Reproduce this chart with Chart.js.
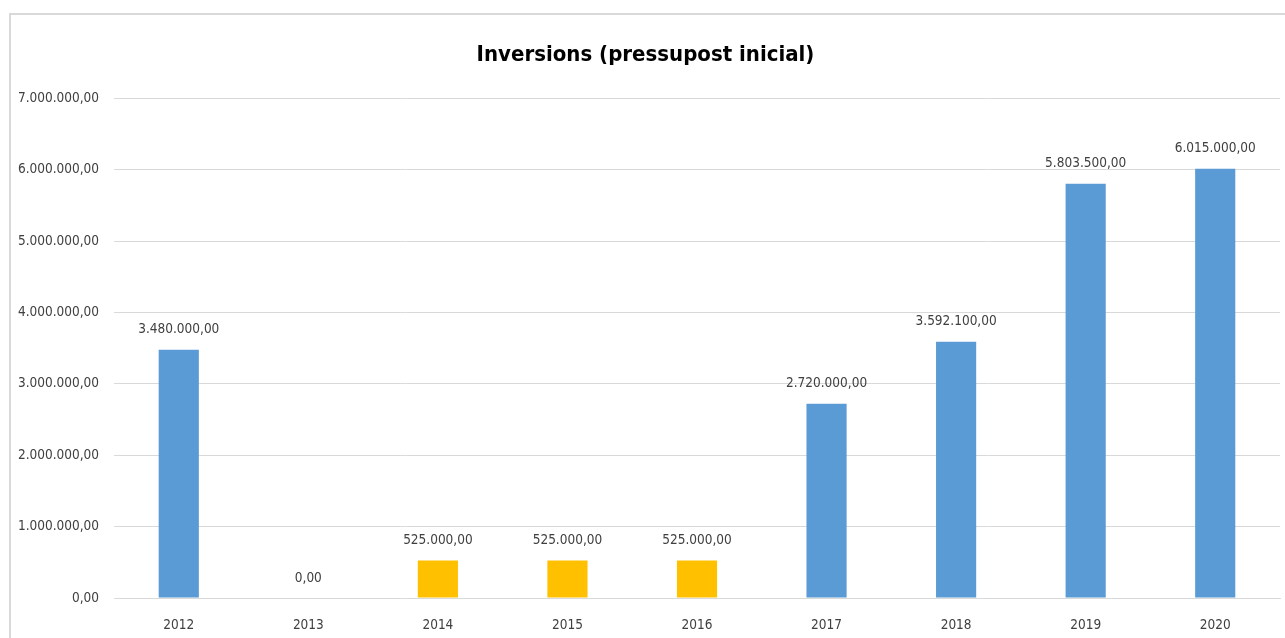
<!DOCTYPE html>
<html>
<head>
<meta charset="utf-8">
<script src="https://cdn.jsdelivr.net/npm/chart.js@4/dist/chart.umd.min.js"></script>
<style>
  html, body { margin: 0; padding: 0; background: #fff; overflow: hidden; }
  #box {
    position: absolute; left: 9px; top: 13px;
    width: 1290px; height: 640px;
    border: 2px solid #d9d9d9; background: #fff;
  }
  #chart { display: block; }
</style>
</head>
<body>
<div id="box"><canvas id="chart" width="1280" height="640"></canvas></div>
<script>
const years = ['2012', '2013', '2014', '2015', '2016', '2017', '2018', '2019', '2020'];
const inversions = [3480000, 0, 525000, 525000, 525000, 2720000, 3592100, 5803500, 6015000];
const yellowYears = ['2014', '2015', '2016'];
const yTicks = [0, 1000000, 2000000, 3000000, 4000000, 5000000, 6000000, 7000000];

const FONT = "'Liberation Sans Narrow', 'DejaVu Sans Condensed', sans-serif";

function fmt(v) {
  const parts = Math.round(v).toString().replace(/\B(?=(\d{3})+(?!\d))/g, '.');
  return parts + ',00';
}

const valueLabels = {
  id: 'valueLabels',
  afterDatasetsDraw(chart) {
    const ctx = chart.ctx;
    const meta = chart.getDatasetMeta(0);
    ctx.save();
    ctx.font = '13.5px ' + FONT;
    ctx.fillStyle = '#404040';
    ctx.textAlign = 'center';
    ctx.textBaseline = 'middle';
    meta.data.forEach((bar, i) => {
      ctx.fillText(fmt(inversions[i]), bar.x, bar.y - 20);
    });
    ctx.restore();
  }
};

new Chart(document.getElementById('chart').getContext('2d'), {
  type: 'bar',
  data: {
    labels: years,
    datasets: [{
      label: 'Inversions',
      data: inversions,
      backgroundColor: ctx => yellowYears.includes(years[ctx.dataIndex]) ? '#ffc000' : '#5b9bd5',
      categoryPercentage: 1,
      barPercentage: 0.31,
      borderWidth: 0
    }]
  },
  options: {
    responsive: false,
    animation: false,
    layout: { padding: { left: 0, right: 11, top: 0, bottom: 0 } },
    plugins: {
      legend: { display: false },
      tooltip: { enabled: false },
      title: {
        display: true,
        text: 'Inversions (pressupost inicial)',
        color: '#000',
        font: { family: FONT, size: 22, weight: 'bold' },
        padding: { top: 27, bottom: 30 }
      }
    },
    scales: {
      x: {
        grid: { display: false, drawTicks: false },
        border: { display: true, color: '#d9d9d9', width: 1 },
        ticks: { color: '#404040', font: { family: FONT, size: 13.5 }, padding: 19 },
        afterFit(scale) { scale.height = 57; }
      },
      y: {
        min: 0,
        max: 7000000,
        afterBuildTicks(scale) { scale.ticks = yTicks.map(v => ({ value: v })); },
        grid: { color: '#d9d9d9', drawTicks: false },
        border: { display: false },
        ticks: {
          color: '#404040',
          font: { family: FONT, size: 13.5 },
          padding: 15,
          callback: v => fmt(v)
        },
        afterFit(scale) { scale.width = 103; }
      }
    }
  },
  plugins: [valueLabels]
});
</script>
</body>
</html>
